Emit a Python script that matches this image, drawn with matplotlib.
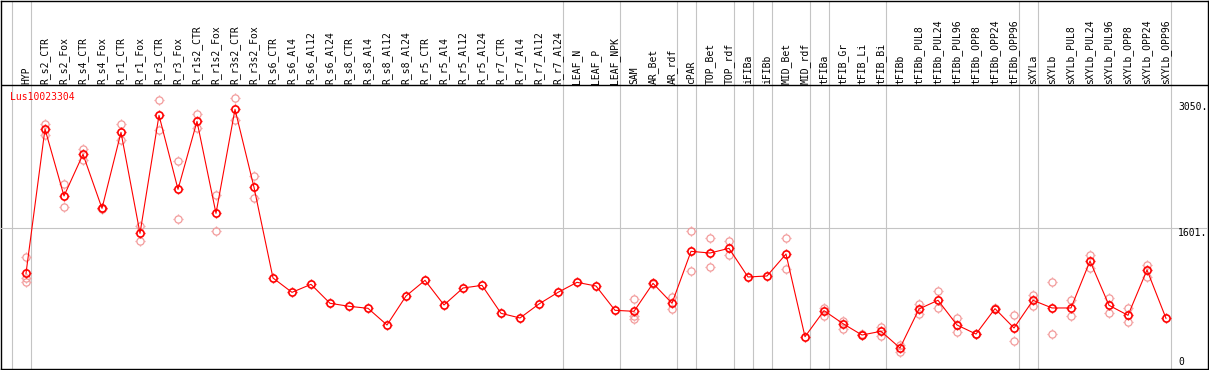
import numpy as np
import matplotlib
matplotlib.use("Agg")
import matplotlib.pyplot as plt
from matplotlib.path import Path

W, H = 1209, 370

samples = ["HYP", "R_s2_CTR", "R_s2_Fox", "R_s4_CTR", "R_s4_Fox", "R_r1_CTR", "R_r1_Fox",
           "R_r3_CTR", "R_r3_Fox", "R_r1s2_CTR", "R_r1s2_Fox", "R_r3s2_CTR", "R_r3s2_Fox",
           "R_s6_CTR", "R_s6_Al4", "R_s6_Al12", "R_s6_Al24", "R_s8_CTR", "R_s8_Al4",
           "R_s8_Al12", "R_s8_Al24", "R_r5_CTR", "R_r5_Al4", "R_r5_Al12", "R_r5_Al24",
           "R_r7_CTR", "R_r7_Al4", "R_r7_Al12", "R_r7_Al24", "LEAF_N", "LEAF_P", "LEAF_NPK",
           "SAM", "AR_Bet", "AR_rdf", "cPAR", "TOP_Bet", "TOP_rdf", "iFIBa", "iFIBb",
           "MID_Bet", "MID_rdf", "tFIBa", "tFIB_Gr", "tFIB_Li", "tFIB_Bi", "tFIBb",
           "tFIBb_PUL8", "tFIBb_PUL24", "tFIBb_PUL96", "tFIBb_OPP8", "tFIBb_OPP24",
           "tFIBb_OPP96", "sXYLa", "sXYLb", "sXYLb_PUL8", "sXYLb_PUL24", "sXYLb_PUL96",
           "sXYLb_OPP8", "sXYLb_OPP24", "sXYLb_OPP96"]

# mean expression
mean = [1062, 2790, 1988, 2487, 1840, 2750, 1541, 2954, 2068, 2882, 1780, 3026, 2092,
        1006, 834, 930, 703, 667, 643, 443, 790, 978, 683, 886, 918, 583, 527, 695, 834,
        954, 910, 619, 607, 942, 703, 1325, 1305, 1361, 1018, 1030, 1293, 303, 615, 459,
        323, 368, 168, 635, 739, 443, 335, 639, 407, 739, 647, 647, 1209, 679, 559, 1102, 523]

nan = np.nan
# replicates (nan = none shown)
rep_hi = [1254, 2850, 2128, 2551, 1850, 2850, 1632, 3134, 2403, 2970, 1996, 3158, 2224,
          nan, nan, nan, nan, nan, nan, nan, nan, nan, nan, nan, nan, nan, nan, nan, nan,
          nan, nan, nan, 754, 950, 775, 1565, 1481, 1449, nan, nan, 1481, nan, 651, 487,
          330, 416, 204, 695, 850, 527, 340, 645, 559, 802, 954, 742, 1281, 766, 643, 1162, nan]
rep_lo = [960, 2718, 1852, 2419, 1830, 2658, 1445, 2778, 1716, 2806, 1565, 2894, 1960,
          nan, nan, nan, nan, nan, nan, nan, nan, nan, nan, nan, nan, nan, nan, nan, nan,
          nan, nan, nan, 511, 935, 631, 1086, 1134, 1285, nan, nan, 1110, nan, 555, 399,
          318, 315, 124, 571, 643, 355, 330, 635, 248, 667, 335, 547, 1129, 583, 475, 1018, nan]
rep_mid = [1000, nan, nan, nan, nan, nan, nan, nan, nan, nan, nan, nan, nan,
           nan, nan, nan, nan, nan, nan, nan, nan, nan, nan, nan, nan, nan, nan, nan, nan,
           nan, nan, nan, 555, nan, nan, nan, nan, nan, nan, nan, nan, nan, nan, nan,
           nan, nan, nan, nan, nan, nan, nan, nan, nan, nan, nan, nan, nan, nan, nan, nan, nan]

# column separators follow these samples
sep_after = [-1, 0, 28, 31, 34, 35, 37, 38, 39, 41, 42, 45, 52, 53, 60]
ticks = [0, 1601, 3050]
tick_txt = ["0", "1601.", "3050."]
gene = "Lus10023304"

# pixel layout
X0, DX = 26.0, 19.0
V0, K = 362.0, (362.0 - 228.3) / 1601.0
L, R, T, B, SEP = 0.7, 1207.8, 0.7, 368.8, 85.0


def cx(p):
    return (p - X0) / DX


def vy(p):
    return (V0 - p) / K


mono = "DejaVu Sans Mono"
red = "#ff0000"
pale = "#f29a9a"

fig = plt.figure(figsize=(W / 100, H / 100), dpi=100)

bg = fig.add_axes([L / W, 1 - B / H, (R - L) / W, (B - T) / H])
bg.set_xlim(cx(L), cx(R))
bg.set_ylim(B, T)
bg.set_xticks([])
bg.set_yticks([])
for s in bg.spines.values():
    s.set_linewidth(1.0)
    s.set_color("black")
for i in sep_after:
    bg.axvline(i + 0.237, color="#c4c4c4", lw=0.8, zorder=1)
bg.axhline(SEP, color="black", lw=1.0, zorder=2)
for i, name in enumerate(samples):
    bg.text(i, SEP - 1.5, name, rotation=90, ha="center", va="bottom",
            fontsize=7, family=mono, color="black")

ax = fig.add_axes([L / W, 1 - B / H, (R - L) / W, (B - SEP) / H])
ax.patch.set_alpha(0)
ax.set_xlim(cx(L), cx(R))
ax.set_ylim(vy(B), vy(SEP))
ax.axis("off")
ax.axhline(1601, color="#c4c4c4", lw=0.8, zorder=1)

# little ticks around each circle
verts, codes = [], []
for dx, dy in [(0, 1), (0, -1), (1, 0), (-1, 0)]:
    verts += [(dx * 0.7, dy * 0.7), (dx, dy)]
    codes += [Path.MOVETO, Path.LINETO]
spikes = Path(verts, codes)

xs = np.arange(len(samples))
for rep in (rep_hi, rep_lo, rep_mid):
    ax.plot(xs, rep, ls="none", marker="o", ms=5.2, mfc="none", mec=pale, mew=0.9, zorder=2)
    ax.plot(xs, rep, ls="none", marker=spikes, ms=7.4, mec=pale, mew=0.9, zorder=2)
ax.plot(xs, mean, color=red, lw=0.8, zorder=3)
ax.plot(xs, mean, ls="none", marker="o", ms=5.2, mfc="none", mec=red, mew=1.2, zorder=4)
ax.plot(xs, mean, ls="none", marker=spikes, ms=7.4, mec=red, mew=1.0, zorder=4)

ax.text(cx(9.5), vy(97), gene, color=red, fontsize=7, family=mono, ha="left", va="center")
for v, t in zip(ticks, tick_txt):
    va = "top" if v == 1601 else "center"
    ax.text(cx(1178), v, t, fontsize=7, family=mono, ha="left", va=va, color="black")

fig.savefig("out.png", dpi=100)
